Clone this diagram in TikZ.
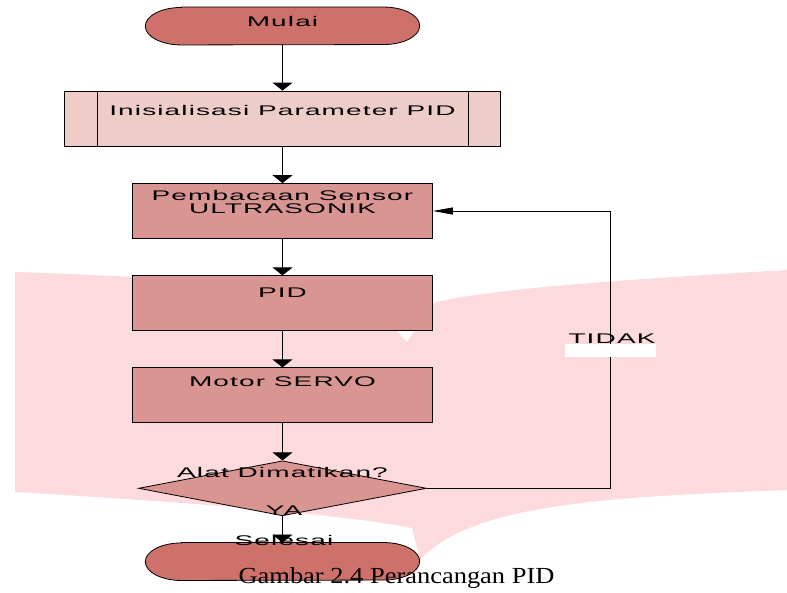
\documentclass[tikz,border=0pt]{standalone}
\usepackage{fontspec}
\setmainfont{Liberation Serif}
\newfontfamily\flowfont[LetterSpace=4]{Liberation Sans}
\usetikzlibrary{shapes,arrows.meta,positioning}
\definecolor{termred}{RGB}{205,113,106}
\definecolor{initpink}{RGB}{238,205,201}
\definecolor{procred}{RGB}{217,149,146}
\definecolor{markpink}{RGB}{253,218,221}
\newcommand{\wtxt}[1]{\scalebox{2.0}[1]{#1}}
\newcommand{\termpath}[1]{\path[termline] ([xshift=36pt]#1.north west) -- ([xshift=-36pt]#1.north east)
    arc[start angle=-90, end angle=90, x radius=36, y radius=18.75] -- ([xshift=36pt]#1.south west)
    arc[start angle=90, end angle=270, x radius=36, y radius=18.75] -- cycle;}
\tikzstyle{term} = [rectangle, minimum width=274pt, minimum height=37.5pt, inner sep=0pt]
\tikzstyle{termline} = [draw, fill=termred, line width=0.8pt]
\tikzstyle{init} = [rectangle, draw, fill=initpink, 
    minimum width=436pt, minimum height=55pt, line width=0.8pt]
\tikzstyle{proc} = [rectangle, draw, fill=procred, 
    minimum width=300pt, minimum height=55pt, line width=0.8pt]
\tikzstyle{decision} = [diamond, draw, fill=procred, inner sep=0pt,
    minimum width=288pt, minimum height=55pt, line width=0.8pt]
\tikzstyle{lbl} = [inner sep=0pt, anchor=base, font=\flowfont\fontsize{14}{14}\selectfont]
\tikzstyle{line} = [draw, line width=0.8pt, -{Triangle[width=20pt,length=8pt]}]
\tikzstyle{back} = [draw, line width=0.8pt, -{Triangle[width=7pt,length=20pt]}]
\begin{document}
\begin{tikzpicture}[x=1pt, y=-1pt]
 \useasboundingbox (0,0) rectangle (787,592);
 % watermark
 \fill[markpink] (15,272) .. controls (200,278) and (330,290) .. (380,313) -- (407,342)
    -- (433,303) .. controls (490,288) and (650,278) .. (787,270) -- (787,490)
    .. controls (600,497) and (470,505) .. (420,560) -- (412,528)
    .. controls (330,512) and (150,500) .. (15,492) -- cycle;
 \node [term] (mulai) at (282.5,26) {};
 \termpath{mulai}
 \node [init] (init) at (282.5,118.5) {};
 \draw[line width=0.8pt] ([xshift=33pt]init.north west) -- ([xshift=33pt]init.south west);
 \draw[line width=0.8pt] ([xshift=-33pt]init.north east) -- ([xshift=-33pt]init.south east);
 \node [proc] (sensor) at (282.5,211) {};
 \node [proc] (pid) at (282.5,303.3) {};
 \node [proc] (servo) at (282.5,395.3) {};
 \node [decision] (mati) at (282.5,488.3) {};
 \node [term] (selesai) at (282.5,561.5) {};
 \termpath{selesai}
 \coordinate (bend) at (610.3,488.3);
    \path [line] (mulai) -- (init);
    \path [line] (init) -- (sensor);
    \path [line] (sensor) -- (pid);
    \path [line] (pid) -- (servo);
    \path [line] (servo) -- (mati);
    \path [line] (mati) -- (selesai);
    \path [back] (mati.east) -- (bend) |- (sensor.east);
 \node [fill=white, inner sep=0pt, minimum width=91pt, minimum height=13pt] (tidakbox) at (610.5,350.5) {};
 \node [lbl] (mulaitxt) at (282.5,26) {\wtxt{Mulai}};
 \node [lbl] (inittxt) at (282.5,115) {\wtxt{Inisialisasi Parameter PID}};
 \node [lbl, anchor=center] (sensortxt) at (282.5,202) {\wtxt{\shortstack{Pembacaan Sensor\\ULTRASONIK}}};
 \node [lbl] (pidtxt) at (282.5,297) {\wtxt{PID}};
 \node [lbl] (servotxt) at (282.5,386.5) {\wtxt{Motor SERVO}};
 \node [lbl] (matitxt) at (282.5,477) {\wtxt{Alat Dimatikan?}};
 \node [lbl] (ya) at (284,515) {\wtxt{YA}};
 \node [lbl] (selesaitxt) at (284,545) {\wtxt{Selesai}};
 \node [lbl] (tidak) at (612,343) {\wtxt{TIDAK}};
 \node [inner sep=0pt, anchor=base, font=\fontsize{23}{23}\selectfont] (caption) at (396.5,583)
    {\scalebox{1.15}[1]{Gambar 2.4 Perancangan PID}};
\end{tikzpicture}
\end{document}
